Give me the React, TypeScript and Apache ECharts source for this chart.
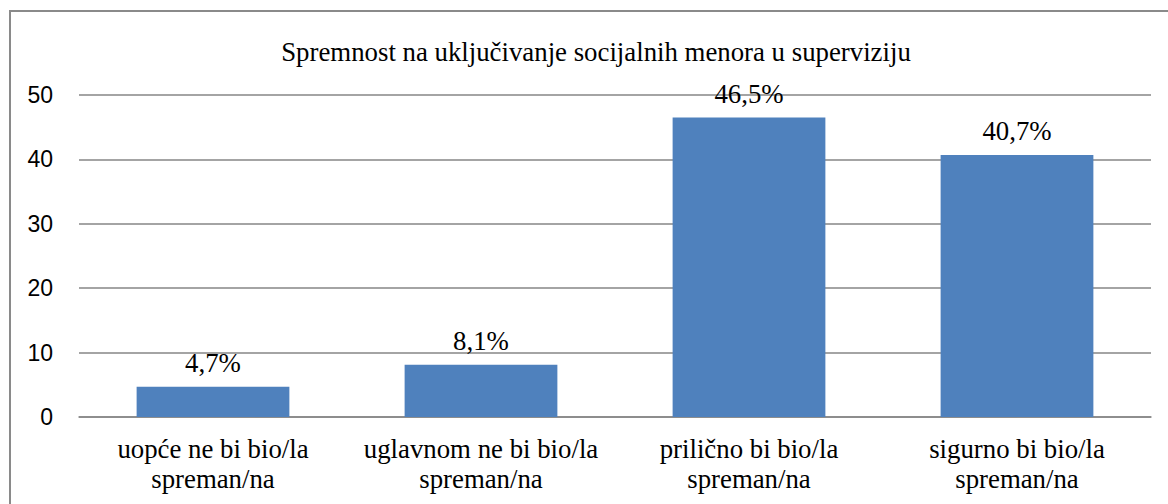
import React, { useEffect, useRef } from "react";
import * as echarts from "echarts";

const title = "Spremnost na uključivanje socijalnih menora u superviziju";
const categories = [
  "uopće ne bi bio/la\nspreman/na",
  "uglavnom ne bi bio/la\nspreman/na",
  "prilično bi bio/la\nspreman/na",
  "sigurno bi bio/la\nspreman/na",
];
const values = [4.7, 8.1, 46.5, 40.7];
const valueLabels = ["4,7%", "8,1%", "46,5%", "40,7%"];

export default function App() {
  const ref = useRef<HTMLDivElement>(null);
  useEffect(() => {
    document.body.style.margin = "0";
    const chart = echarts.init(ref.current!, null, { renderer: "svg" });
    const serif = "Liberation Serif";
    chart.setOption({
      animation: false,
      backgroundColor: "#ffffff",
      graphic: [
        {
          type: "rect",
          shape: { x: 10, y: 11, width: 1180, height: 520 },
          style: { fill: "none", stroke: "#8a8a8a", lineWidth: 2 },
          silent: true,
        },
      ],
      title: {
        text: title,
        left: 591,
        textAlign: "center",
        top: 33,
        textStyle: { fontFamily: serif, fontSize: 26.8, fontWeight: "normal", color: "#000" },
      },
      grid: { left: 79, right: 17, top: 95, bottom: 87, containLabel: false },
      xAxis: {
        type: "category",
        data: categories,
        axisLine: { show: true, lineStyle: { color: "#868686", width: 1.5 } },
        axisTick: { show: false },
        axisLabel: {
          fontFamily: serif,
          fontSize: 26.8,
          lineHeight: 30,
          color: "#000",
          margin: 17,
          interval: 0,
        },
      },
      yAxis: {
        type: "value",
        min: 0,
        max: 50,
        interval: 10,
        axisLine: { show: false },
        axisTick: { show: false },
        splitLine: { lineStyle: { color: "#868686", width: 1.5 } },
        axisLabel: {
          fontFamily: "Liberation Sans",
          fontSize: 23,
          color: "#000",
          margin: 26,
        },
      },
      series: [
        {
          type: "bar",
          data: values,
          barWidth: "57%",
          itemStyle: { color: "#4f81bd" },
          label: {
            show: true,
            position: "top",
            distance: 10,
            fontFamily: serif,
            fontSize: 26.8,
            color: "#000",
            formatter: (p: any) => valueLabels[p.dataIndex],
          },
        },
      ],
    });
    return () => chart.dispose();
  }, []);
  return <div ref={ref} style={{ width: 1168, height: 504 }} />;
}
